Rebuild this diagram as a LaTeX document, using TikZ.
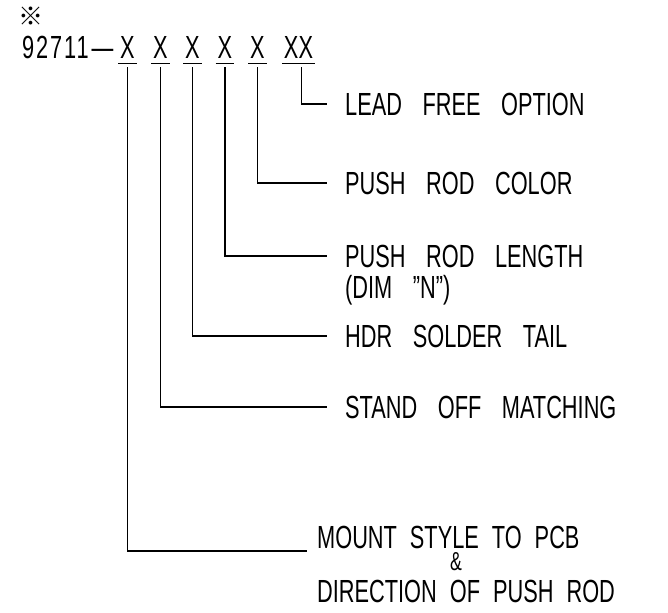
\documentclass[tikz,border=0pt]{standalone}
\usepackage{fontspec}
\setmainfont{Liberation Sans}[FakeStretch=0.68,WordSpace=3.4]
\newfontfamily\cjkfont{Noto Sans CJK SC}
\newcommand\gapfont{\fontsize{32}{28}\selectfont\spaceskip=13pt\relax}
\usetikzlibrary{positioning}

\begin{document}
\begin{tikzpicture}[x=1pt, y=-1pt, every node/.style={font=\fontsize{32}{28}\selectfont, inner sep=0pt},
    digit/.style={anchor=base, inner xsep=2pt},
    narrowgap/.style={anchor=west, font=\gapfont},
    leader/.style={line width=1.3pt}]
    \useasboundingbox (0,0) rectangle (668,612);

    % part number with its option positions
    \node (refmark) at (31,16) {\cjkfont\bfseries\fontsize{25}{25}\selectfont ※};
    \node[anchor=base west] (prefix) at (22,59) {{\addfontfeature{LetterSpace=6}92711}\kern3pt—};
    \foreach \i/\xx in {1/127.5, 2/160.5, 3/192.5, 4/225, 5/257.5}
        \node[digit] (x\i) at (\xx,59) {X};
    \node[digit] (x6) at (298.5,59) {XX};
    \foreach \i in {1,...,6}
        \draw[leader] ([yshift=-4pt]x\i.south west) -- ([yshift=-4pt]x\i.south east);

    % option labels
    \node[anchor=west] (lfo) at (345,104) {LEAD FREE OPTION};
    \node[anchor=west] (prc) at (345,183) {PUSH ROD COLOR};
    \node[anchor=west] (prl) at (345,256) {PUSH ROD LENGTH};
    \node[below=8pt of prl.south west, anchor=north west] (dim) {(DIM ''N'')};
    \node[anchor=west] (hst) at (345,336) {HDR SOLDER TAIL};
    \node[anchor=west] (som) at (345,407) {STAND OFF MATCHING};
    \node[narrowgap] (msp) at (317,537) {MOUNT STYLE TO PCB};
    \node[font=\fontsize{26}{26}\selectfont] (amp) at (456,562) {\&};
    \node[narrowgap] (dop) at (317,591) {DIRECTION OF PUSH ROD};

    % leaders
    \draw[leader] ([xshift=3pt,yshift=-8pt]x6.south) |- ([xshift=-18pt]lfo.west);
    \draw[leader] ([yshift=-8pt]x5.south) |- ([xshift=-18pt]prc.west);
    \draw[leader] ([yshift=-8pt]x4.south) |- ([xshift=-18pt]prl.west);
    \draw[leader] ([yshift=-8pt]x3.south) |- ([xshift=-18pt]hst.west);
    \draw[leader] ([yshift=-8pt]x2.south) |- ([xshift=-18pt]som.west);
    \draw[leader] ([yshift=-8pt]x1.south) |- ([xshift=-10pt,yshift=-14pt]msp.west);
\end{tikzpicture}
\end{document}
